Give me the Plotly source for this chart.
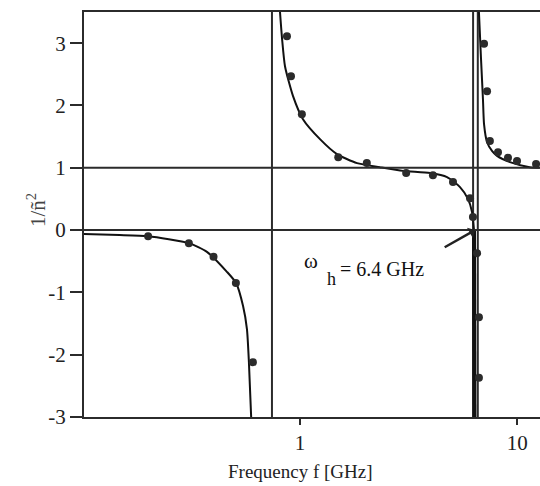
import numpy as np
import plotly.graph_objects as go

# --- measured points (frequency in GHz, value of 1/n~^2) ---
meas_low_f = [0.20, 0.308, 0.40, 0.507, 0.607]
meas_low_v = [-0.10, -0.21, -0.43, -0.85, -2.12]

meas_mid_f = [0.871, 0.909, 1.02, 1.50, 2.03, 3.08, 4.09, 5.06, 6.06, 6.25]
meas_mid_v = [3.11, 2.47, 1.86, 1.17, 1.075, 0.915, 0.88, 0.77, 0.51, 0.21]

meas_neg_f = [6.53, 6.66, 6.66]
meas_neg_v = [-0.37, -1.40, -2.37]

meas_high_f = [7.03, 7.26, 7.48, 8.15, 9.06, 9.97, 12.2]
meas_high_v = [2.99, 2.23, 1.43, 1.25, 1.16, 1.11, 1.06]

# --- fitted curves ---
fit_low_f = [0.0993, 0.148, 0.1998, 0.308, 0.373, 0.461, 0.508, 0.547, 0.570, 0.582, 0.596]
fit_low_v = [-0.064, -0.08, -0.10, -0.21, -0.35, -0.67, -0.85, -1.22, -1.59, -2.12, -3.0]

fit_mid_f = [0.809, 0.827, 0.853, 0.929, 1.032, 1.236, 1.479, 1.83, 2.33, 2.98, 3.97,
             4.75, 5.45, 5.93, 6.19, 6.32]
fit_mid_v = [3.5, 3.07, 2.63, 2.15, 1.78, 1.46, 1.22, 1.075, 1.01, 0.95, 0.915,
             0.85, 0.69, 0.50, 0.29, 0.0]

fit_neg_f = [6.32, 6.35]
fit_neg_v = [0.0, -3.0]

fit_high_f = [6.66, 6.81, 6.95, 7.03, 7.26, 7.65, 8.07, 9.25, 11.4, 12.7]
fit_high_v = [3.5, 2.74, 2.10, 1.70, 1.41, 1.27, 1.19, 1.09, 1.01, 1.0]

# resonance / asymptote markers
vlines_f = [0.743, 6.26, 6.58]
hlines_v = [0.0, 1.0]

omega_h = 6.4

y_ticks = [-3, -2, -1, 0, 1, 2, 3]
y_ticklabels = ["-3", "-2", "-1", "0", "1", "2", "3"]
x_ticks = [1, 10]
x_ticklabels = ["1", "10"]

ink = "#2b2b2b"
serif = '"Liberation Serif", "Times New Roman", serif'

X_RANGE = [-0.994, 1.1045]
Y_RANGE = [-3, 3.5]

fig = go.Figure()

for f in vlines_f:
    fig.add_trace(go.Scatter(x=[f, f], y=Y_RANGE, mode="lines",
                             line=dict(color=ink, width=2), hoverinfo="skip"))
for v in hlines_v:
    fig.add_hline(y=v, line=dict(color=ink, width=2))

for fx, fy, w in [(fit_low_f, fit_low_v, 2), (fit_mid_f, fit_mid_v, 2),
                  (fit_neg_f, fit_neg_v, 4), (fit_high_f, fit_high_v, 2)]:
    fig.add_trace(go.Scatter(x=fx, y=fy, mode="lines",
                             line=dict(color="#111", width=w, shape="spline", smoothing=0.6),
                             hoverinfo="skip"))

for mx, my in [(meas_low_f, meas_low_v), (meas_mid_f, meas_mid_v),
               (meas_neg_f, meas_neg_v), (meas_high_f, meas_high_v)]:
    fig.add_trace(go.Scatter(x=mx, y=my, mode="markers",
                             marker=dict(color=ink, size=8)))

# arrow pointing to the zero crossing at omega_h
fig.add_annotation(x=np.log10(omega_h), y=0, xref="x", yref="y", text="",
                   showarrow=True, arrowhead=1, arrowsize=0.8, arrowwidth=2.5,
                   arrowcolor="#222", ax=-32, ay=18)


def px(xp, yp):
    return (xp - 84) / 456, (417 - yp) / 405


x0, y0 = px(311, 261)
fig.add_annotation(x=x0, y=y0, xref="paper", yref="paper", text="ω",
                   showarrow=False, font=dict(family=serif, size=21, color="#111"))
x0, y0 = px(331, 279)
fig.add_annotation(x=x0, y=y0, xref="paper", yref="paper", text="h",
                   showarrow=False, font=dict(family=serif, size=18, color="#111"))
x0, y0 = px(338, 269)
fig.add_annotation(x=x0, y=y0, xref="paper", yref="paper", text="= 6.4 GHz",
                   xanchor="left", showarrow=False,
                   font=dict(family=serif, size=20, color="#111"))

# axis titles
x0, y0 = px(300, 471)
fig.add_annotation(x=x0, y=y0, xref="paper", yref="paper", text="Frequency f [GHz]",
                   yanchor="middle", showarrow=False,
                   font=dict(family=serif, size=19, color="#222"))
x0, y0 = px(36, 210)
fig.add_annotation(x=x0, y=y0, xref="paper", yref="paper", text="1/ñ<sup>2</sup>",
                   textangle=-90, yanchor="middle", xanchor="center", showarrow=False,
                   font=dict(family=serif, size=21, color="#444"))

tickfont = dict(family=serif, size=21, color="#222")
fig.update_layout(
    width=540, height=486,
    margin=dict(l=84, r=0, t=12, b=69),
    paper_bgcolor="white", plot_bgcolor="white",
    showlegend=False,
    font=dict(family=serif, size=19, color="#222"),
    xaxis=dict(type="log", range=X_RANGE, tickvals=x_ticks, ticktext=x_ticklabels,
               tickfont=tickfont,
               ticks="outside", ticklen=6, tickwidth=2, tickcolor=ink,
               showline=True, linecolor=ink, linewidth=2, mirror=True,
               showgrid=False, zeroline=False),
    yaxis=dict(range=Y_RANGE, tickvals=y_ticks, ticktext=y_ticklabels, tickfont=tickfont,
               ticks="outside", ticklen=12,
               tickwidth=2, tickcolor=ink, showline=True, linecolor=ink, linewidth=2,
               showgrid=False, zeroline=False),
)

fig.write_html("out.html")
